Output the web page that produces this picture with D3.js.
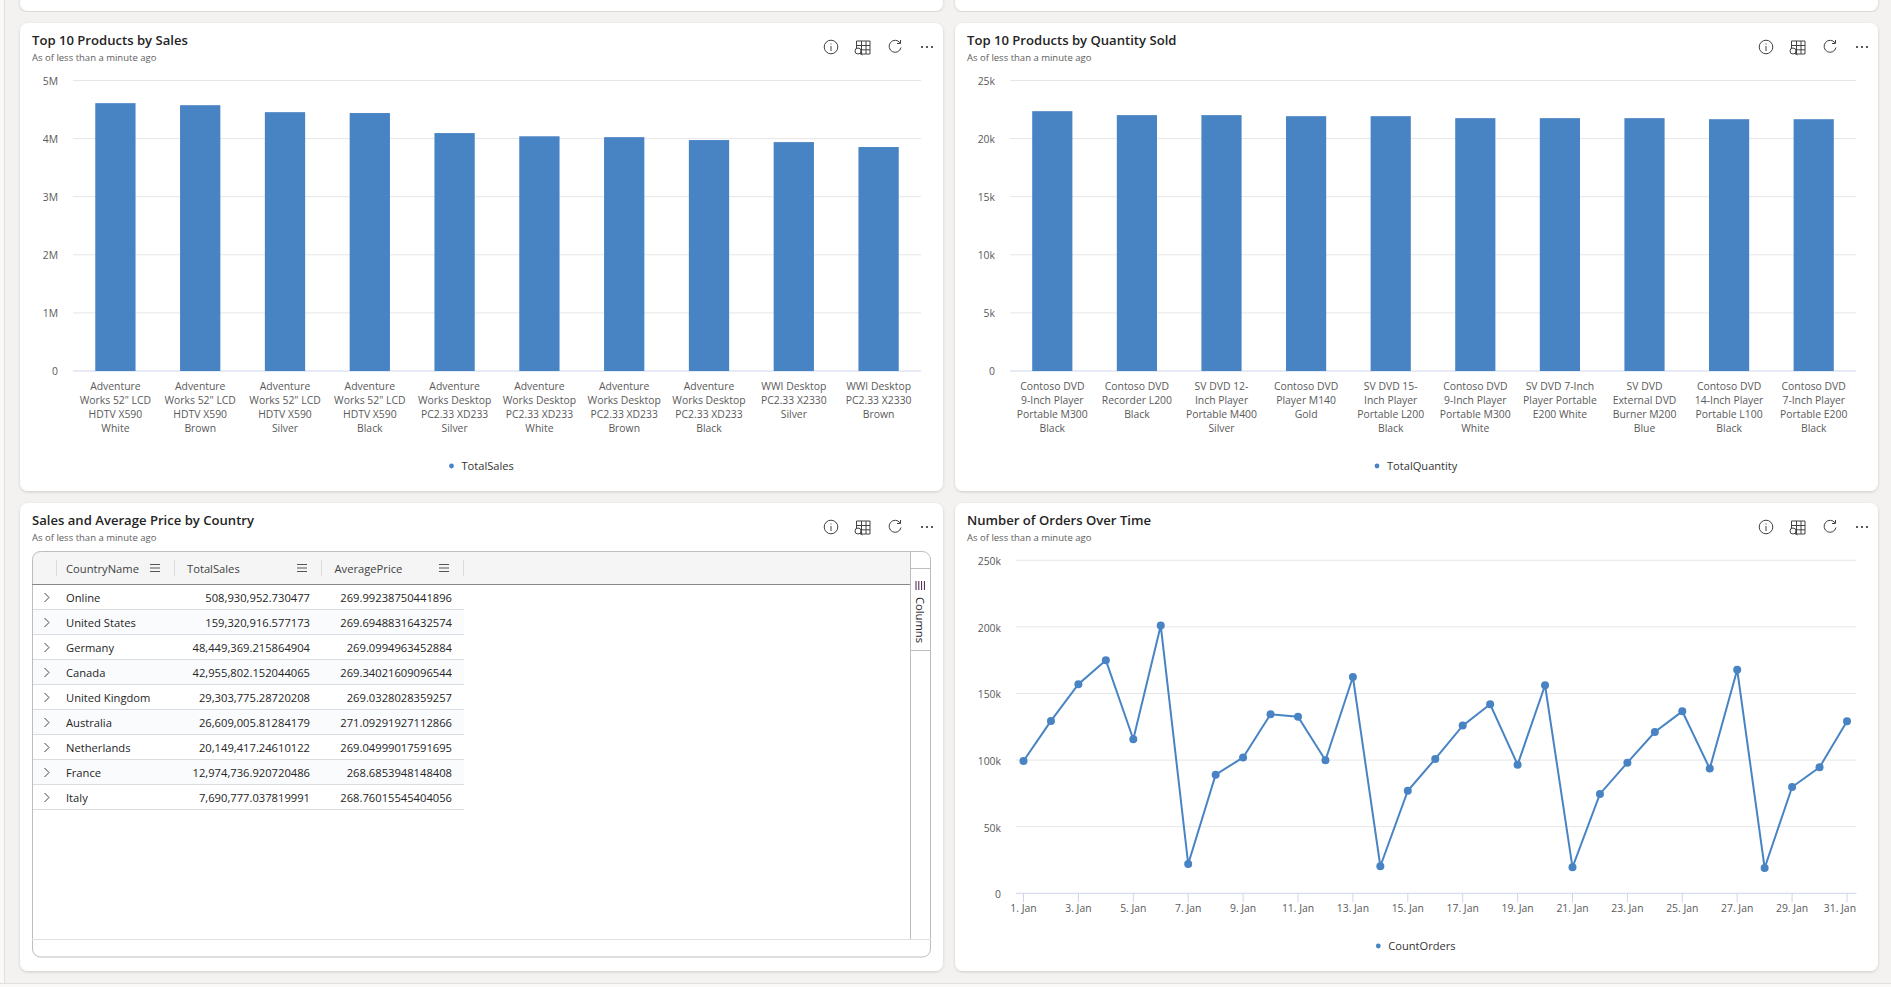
<!DOCTYPE html>
<html>
<head>
<meta charset="utf-8">
<script src="https://cdn.jsdelivr.net/npm/d3@7"></script>
<style>
  html, body { margin: 0; padding: 0; background: #f3f2f1; overflow: hidden; }
  svg { display: block; font-family: "Open Sans", sans-serif; }
  .title { font-size: 13.1px; font-weight: 600; fill: #242424; }
  .sub { font-size: 9.5px; fill: #605e5c; }
  .tick-label { font-size: 10.4px; fill: #5a5a5a; }
  .legend-label { font-size: 11.1px; fill: #333; }
  .cell { font-size: 11.2px; fill: #242424; }
  .head { font-size: 11.2px; fill: #424242; font-weight: 500; }
</style>
</head>
<body>
<div id="chart"></div>
<script>
// chart data
const salesProducts = [
  ['Adventure', 'Works 52" LCD', 'HDTV X590', 'White'],
  ['Adventure', 'Works 52" LCD', 'HDTV X590', 'Brown'],
  ['Adventure', 'Works 52" LCD', 'HDTV X590', 'Silver'],
  ['Adventure', 'Works 52" LCD', 'HDTV X590', 'Black'],
  ['Adventure', 'Works Desktop', 'PC2.33 XD233', 'Silver'],
  ['Adventure', 'Works Desktop', 'PC2.33 XD233', 'White'],
  ['Adventure', 'Works Desktop', 'PC2.33 XD233', 'Brown'],
  ['Adventure', 'Works Desktop', 'PC2.33 XD233', 'Black'],
  ['WWI Desktop', 'PC2.33 X2330', 'Silver'],
  ['WWI Desktop', 'PC2.33 X2330', 'Brown']
];
const totalSales = [4610000, 4575000, 4455000, 4440000, 4095000, 4040000, 4025000, 3975000, 3940000, 3855000];

const quantityProducts = [
  ['Contoso DVD', '9-Inch Player', 'Portable M300', 'Black'],
  ['Contoso DVD', 'Recorder L200', 'Black'],
  ['SV DVD 12-', 'Inch Player', 'Portable M400', 'Silver'],
  ['Contoso DVD', 'Player M140', 'Gold'],
  ['SV DVD 15-', 'Inch Player', 'Portable L200', 'Black'],
  ['Contoso DVD', '9-Inch Player', 'Portable M300', 'White'],
  ['SV DVD 7-Inch', 'Player Portable', 'E200 White'],
  ['SV DVD', 'External DVD', 'Burner M200', 'Blue'],
  ['Contoso DVD', '14-Inch Player', 'Portable L100', 'Black'],
  ['Contoso DVD', '7-Inch Player', 'Portable E200', 'Black']
];
const totalQuantity = [22360, 22020, 22020, 21930, 21930, 21760, 21760, 21760, 21670, 21670];

const countries = ['Online', 'United States', 'Germany', 'Canada', 'United Kingdom', 'Australia', 'Netherlands', 'France', 'Italy'];
const countrySales = ['508,930,952.730477', '159,320,916.577173', '48,449,369.215864904', '42,955,802.152044065', '29,303,775.28720208', '26,609,005.81284179', '20,149,417.24610122', '12,974,736.920720486', '7,690,777.037819991'];
const countryPrice = ['269.99238750441896', '269.69488316432574', '269.0994963452884', '269.34021609096544', '269.0328028359257', '271.09291927112866', '269.04999017591695', '268.6853948148408', '268.76015545404056'];

const orderDays = d3.range(1, 32);
const countOrders = [99300, 129400, 157000, 175000, 115600, 201000, 22000, 89000, 102000, 134400, 132600, 99900, 162400, 20300, 77000, 100900, 125900, 141900, 96600, 156200, 19500, 74600, 98100, 121100, 136600, 93600, 167900, 19000, 79800, 94600, 129100];

const salesTicks = [0, 1e6, 2e6, 3e6, 4e6, 5e6];
const quantityTicks = [0, 5000, 10000, 15000, 20000, 25000];
const orderTicks = [0, 50000, 100000, 150000, 200000, 250000];
const dayTicks = [1, 3, 5, 7, 9, 11, 13, 15, 17, 19, 21, 23, 25, 27, 29, 31];

const blue = '#4884c4';
const gridColor = '#e6e6e6';
const axisColor = '#ccd6eb';

const svg = d3.select('#chart').append('svg').attr('width', 1891).attr('height', 987);

const defs = svg.append('defs');
const shadow = defs.append('filter').attr('id', 'cardShadow')
  .attr('x', '-2%').attr('y', '-2%').attr('width', '104%').attr('height', '104%');
shadow.append('feDropShadow').attr('dx', 0).attr('dy', 1).attr('stdDeviation', 1.5)
  .attr('flood-color', '#000').attr('flood-opacity', 0.16);

// page edges
svg.append('rect').attr('width', 1891).attr('height', 987).attr('fill', '#f3f2f1');
svg.append('rect').attr('x', 0).attr('y', 0).attr('width', 4).attr('height', 987).attr('fill', '#faf9f8');
svg.append('rect').attr('x', 4).attr('y', 0).attr('width', 1).attr('height', 987).attr('fill', '#e1dfdd');
svg.append('rect').attr('x', 0).attr('y', 984).attr('width', 1891).attr('height', 3).attr('fill', '#faf9f8');
svg.append('rect').attr('x', 0).attr('y', 983).attr('width', 1891).attr('height', 1).attr('fill', '#e1dfdd');

// the cards cut off at the top of the window
[20, 955].forEach(x => {
  svg.append('rect').attr('x', x).attr('y', -20).attr('width', 923).attr('height', 31).attr('rx', 8)
    .attr('fill', '#fff').attr('filter', 'url(#cardShadow)');
});

function drawCard(x, y, title) {
  const card = svg.append('g').attr('transform', `translate(${x},${y})`);
  card.append('rect').attr('width', 923).attr('height', 468).attr('rx', 8)
    .attr('fill', '#fff').attr('filter', 'url(#cardShadow)');
  card.append('text').attr('class', 'title').attr('x', 12).attr('y', 22).text(title);
  card.append('text').attr('class', 'sub').attr('x', 12).attr('y', 38).text('As of less than a minute ago');

  const icons = card.append('g').attr('fill', 'none').attr('stroke', '#424242').attr('stroke-width', 1);
  // info
  icons.append('circle').attr('cx', 811).attr('cy', 24).attr('r', 6.8);
  icons.append('path').attr('d', 'M811 23V28M811 20.5V21.5');
  // table with magnifier
  icons.append('path').attr('d', 'M836.5 27V18H850V31H840M836.5 22.5H850M836.5 26.8H850M841.5 18V31M846 18V31');
  icons.append('circle').attr('cx', 838).attr('cy', 28).attr('r', 3).attr('fill', '#fff');
  icons.append('path').attr('d', 'M840.2 30.2L842.5 32');
  // refresh
  icons.append('path').attr('d', 'M880 19.8A6 6 0 1 0 881 24.5M880.5 17V20.5H877');
  // dots
  card.append('g').attr('fill', '#333').selectAll('circle').data([902, 907, 912]).join('circle')
    .attr('cx', d => d).attr('cy', 24).attr('r', 1.1);
  return card;
}

function drawGrid(x0, x1, y, ticks, fmt, labelX, labelDy) {
  const grid = svg.append('g');
  grid.selectAll('line').data(ticks.filter(d => d > 0)).join('line')
    .attr('x1', x0).attr('x2', x1).attr('y1', d => y(d)).attr('y2', d => y(d))
    .attr('stroke', gridColor);
  grid.append('line').attr('x1', x0).attr('x2', x1).attr('y1', y(0)).attr('y2', y(0))
    .attr('stroke', axisColor);
  svg.append('g').selectAll('text').data(ticks).join('text')
    .attr('class', 'tick-label').attr('text-anchor', 'end')
    .attr('x', labelX).attr('y', d => y(d) + labelDy).text(fmt);
}

function drawLegend(dotX, y, label) {
  svg.append('circle').attr('cx', dotX).attr('cy', y).attr('r', 2.4).attr('fill', blue);
  svg.append('text').attr('class', 'legend-label').attr('x', dotX + 10).attr('y', y + 4).text(label);
}

function drawBars(o) {
  const y = d3.scaleLinear().domain([0, o.ticks[o.ticks.length - 1]]).range([371, 80.5]);
  const x = d3.scaleBand().domain(d3.range(o.values.length)).range([o.x0, o.x1]).paddingInner(0.525).paddingOuter(0.2625);
  drawGrid(o.x0, o.x1, y, o.ticks, o.fmt, o.labelX, 4);
  svg.append('g').selectAll('rect').data(o.values).join('rect')
    .attr('x', (d, i) => x(i)).attr('width', x.bandwidth())
    .attr('y', d => y(d)).attr('height', d => y(0) - y(d))
    .attr('fill', blue);
  const labels = svg.append('g').selectAll('text').data(o.labels).join('text')
    .attr('class', 'tick-label').attr('text-anchor', 'middle')
    .attr('transform', (d, i) => `translate(${x(i) + x.bandwidth() / 2},390)`);
  labels.selectAll('tspan').data(d => d).join('tspan')
    .attr('x', 0).attr('y', (d, i) => i * 14).text(d => d);
  drawLegend(o.dotX, 466, o.legend);
}

drawCard(20, 23, 'Top 10 Products by Sales');
drawCard(955, 23, 'Top 10 Products by Quantity Sold');
drawCard(20, 503, 'Sales and Average Price by Country');
drawCard(955, 503, 'Number of Orders Over Time');

drawBars({
  x0: 73, x1: 921, values: totalSales, labels: salesProducts, ticks: salesTicks,
  fmt: d => d === 0 ? '0' : (d / 1e6) + 'M', labelX: 58, dotX: 451.5, legend: 'TotalSales'
});
drawBars({
  x0: 1010, x1: 1856, values: totalQuantity, labels: quantityProducts, ticks: quantityTicks,
  fmt: d => d === 0 ? '0' : (d / 1e3) + 'k', labelX: 995, dotX: 1377, legend: 'TotalQuantity'
});

// orders line chart
(function () {
  const x = d3.scaleLinear().domain([1, 31]).range([1023.5, 1847]);
  const y = d3.scaleLinear().domain([0, 250000]).range([893.3, 560.3]);
  drawGrid(1016, 1856.5, y, orderTicks, d => d === 0 ? '0' : (d / 1e3) + 'k', 1001, 4.8);

  svg.append('g').selectAll('line').data(dayTicks).join('line')
    .attr('x1', d => x(d)).attr('x2', d => x(d)).attr('y1', y(0)).attr('y2', y(0) + 9)
    .attr('stroke', axisColor);
  svg.append('g').selectAll('text').data(dayTicks).join('text')
    .attr('class', 'tick-label').attr('text-anchor', d => d === 31 ? 'end' : 'middle')
    .attr('x', d => d === 31 ? 1856 : x(d)).attr('y', 912).text(d => d + '. Jan');

  const line = d3.line().x(d => x(d)).y((d, i) => y(countOrders[i]));
  svg.append('path').datum(orderDays).attr('d', line)
    .attr('fill', 'none').attr('stroke', blue).attr('stroke-width', 2);
  svg.append('g').selectAll('circle').data(orderDays).join('circle')
    .attr('cx', d => x(d)).attr('cy', (d, i) => y(countOrders[i])).attr('r', 4)
    .attr('fill', blue);
  drawLegend(1378.3, 946, 'CountOrders');
})();

// country table
(function () {
  const table = svg.append('g');
  const rowH = 25, top = 584, rowX0 = 32, rowX1 = 464;
  const headers = [
    { name: 'CountryName', x: 66, menu: 155 },
    { name: 'TotalSales', x: 187, menu: 302 },
    { name: 'AveragePrice', x: 334.5, menu: 444 }
  ];

  table.append('path')
    .attr('d', 'M32.5 584V559a8 8 0 0 1 8-8H910V584Z')
    .attr('fill', '#f5f5f5');
  table.selectAll('rect.row').data(countries).join('rect')
    .attr('class', 'row').attr('x', rowX0).attr('width', rowX1 - rowX0)
    .attr('y', (d, i) => top + i * rowH).attr('height', rowH)
    .attr('fill', (d, i) => i % 2 ? '#fafbfd' : '#fff');
  table.selectAll('line.row').data(countries).join('line')
    .attr('class', 'row').attr('x1', rowX0).attr('x2', rowX1)
    .attr('y1', (d, i) => top + (i + 1) * rowH + 0.5).attr('y2', (d, i) => top + (i + 1) * rowH + 0.5)
    .attr('stroke', '#d9dde1');

  table.append('rect').attr('x', 32.5).attr('y', 551.5).attr('width', 898).attr('height', 405.5).attr('rx', 8)
    .attr('fill', 'none').attr('stroke', '#bdbdbd');
  table.append('line').attr('x1', 32).attr('x2', 910).attr('y1', 584.5).attr('y2', 584.5).attr('stroke', '#8a8886');
  table.append('line').attr('x1', 910.5).attr('x2', 910.5).attr('y1', 551).attr('y2', 939).attr('stroke', '#bdbdbd');
  table.append('line').attr('x1', 32).attr('x2', 931).attr('y1', 939.5).attr('y2', 939.5).attr('stroke', '#e0e0e0');
  table.append('line').attr('x1', 910).attr('x2', 931).attr('y1', 568.5).attr('y2', 568.5).attr('stroke', '#bdbdbd');
  table.append('line').attr('x1', 910).attr('x2', 931).attr('y1', 650.5).attr('y2', 650.5).attr('stroke', '#bdbdbd');

  // header
  table.selectAll('line.sep').data([56.5, 174.5, 321.5, 463.5]).join('line')
    .attr('class', 'sep').attr('x1', d => d).attr('x2', d => d).attr('y1', 560).attr('y2', 576)
    .attr('stroke', '#dcdcdc');
  table.selectAll('text.head').data(headers).join('text')
    .attr('class', 'head').attr('x', d => d.x).attr('y', 573).text(d => d.name);
  table.selectAll('path.menu').data(headers).join('path')
    .attr('class', 'menu').attr('fill', 'none').attr('stroke', '#555').attr('stroke-width', 1.2)
    .attr('d', d => `M${d.menu - 5} 564.5H${d.menu + 5}M${d.menu - 5} 568H${d.menu + 5}M${d.menu - 5} 571.5H${d.menu + 5}`);

  // rows
  table.selectAll('path.chevron').data(countries).join('path')
    .attr('class', 'chevron').attr('fill', 'none').attr('stroke', '#424242').attr('stroke-width', 1)
    .attr('d', (d, i) => { const c = top + i * rowH + 13.5; return `M44.5 ${c - 4.5}L49 ${c}L44.5 ${c + 4.5}`; });
  table.selectAll('text.name').data(countries).join('text')
    .attr('class', 'cell name').attr('x', 66).attr('y', (d, i) => top + i * rowH + 17.8).text(d => d);
  table.selectAll('text.sales').data(countrySales).join('text')
    .attr('class', 'cell sales').attr('text-anchor', 'end').attr('x', 310).attr('y', (d, i) => top + i * rowH + 17.8).text(d => d);
  table.selectAll('text.price').data(countryPrice).join('text')
    .attr('class', 'cell price').attr('text-anchor', 'end').attr('x', 452).attr('y', (d, i) => top + i * rowH + 17.8).text(d => d);

  // columns side button
  table.append('path').attr('fill', 'none').attr('stroke', '#4b1f4b').attr('stroke-width', 1)
    .attr('d', 'M916 581V590M918.8 581V590M921.6 581V590M924.4 581V590');
  table.append('text').attr('class', 'cell').attr('transform', 'translate(916,597) rotate(90)').text('Columns');
})();
</script>
</body>
</html>
